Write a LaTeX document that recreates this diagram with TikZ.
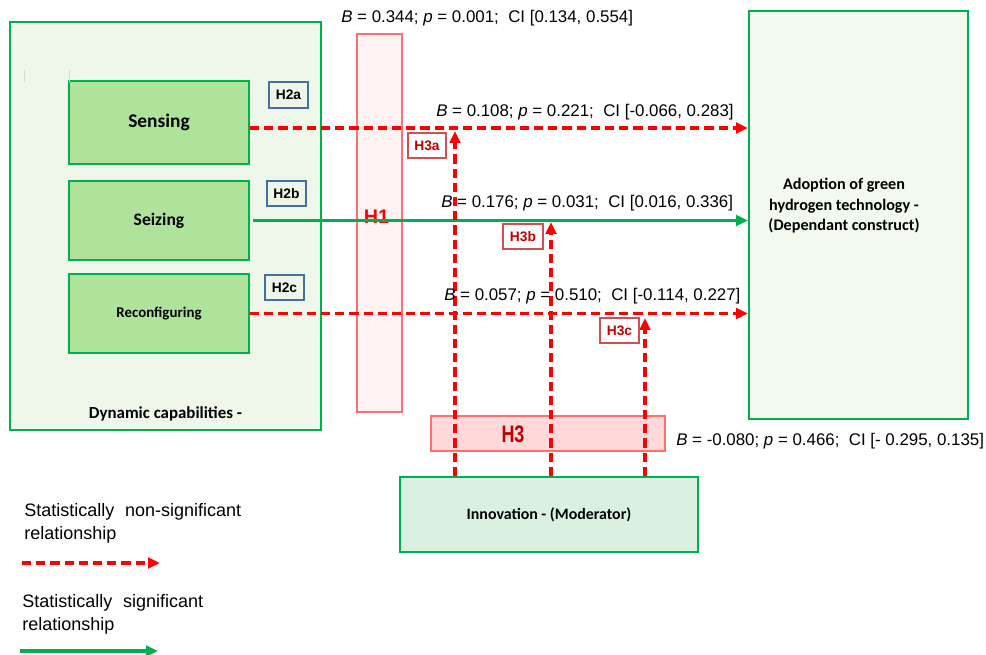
\documentclass[tikz,border=0pt]{standalone}
\usepackage{fontspec}
\setmainfont{Liberation Sans}
\newfontfamily\boxfont{Carlito}
\usepackage{tikz}
\usetikzlibrary{arrows.meta}
\usetikzlibrary{positioning}

\definecolor{fgreen}{HTML}{00B050}
\definecolor{dynfill}{HTML}{EEF7EA}
\definecolor{depfill}{HTML}{F2F9EE}
\definecolor{dimfill}{HTML}{AFE39B}
\definecolor{modfill}{HTML}{DAF1E2}
\definecolor{hypred}{HTML}{C00000}
\definecolor{hypline}{HTML}{FF6F6F}
\definecolor{honeshade}{HTML}{FFF2F2}
\definecolor{hthreeshade}{HTML}{FFD9D9}
\definecolor{tagblue}{HTML}{41719C}
\definecolor{tagred}{HTML}{D05050}
\definecolor{tickgray}{HTML}{D3DAD3}

\newcommand\pxlen{0.025cm}
\newcommand\linewd{1.4pt}
\newcommand\arrowwd{2.2pt}
\tikzset{>={Triangle[length=8.5pt,width=7.5pt]}}

\tikzstyle{construct} = [draw=fgreen, line width=\linewd, rectangle, inner sep=0pt]
\tikzstyle{boxtext}   = [inner sep=0pt, font=\boxfont\bfseries]
\tikzstyle{shade}     = [draw=hypline, line width=.8pt, rectangle, inner sep=0pt]
\tikzstyle{hyptag}    = 
 [line width=.8pt, rectangle, inner sep=0pt, minimum width=39*\pxlen, minimum height=25*\pxlen,
  font=\fontsize{9.8}{11}\selectfont\bfseries]
\tikzstyle{stat}      = [anchor=west, inner sep=0pt, font=\fontsize{12}{14}\selectfont]
\tikzstyle{legendtxt} = [anchor=west, inner sep=0pt, align=left, font=\fontsize{12.8}{16.4}\selectfont]
\tikzstyle{nonsig}    = [->, draw=red, line width=\arrowwd, dash pattern=on 6.5pt off 3.6pt]
\tikzstyle{sig}       = [->, draw=fgreen, line width=\arrowwd]

\begin{document}
\begin{tikzpicture}[x=\pxlen, y=-\pxlen]
    \useasboundingbox (0,0) rectangle (986,655);
    % constructs
    \draw (165.5,226) node[construct, fill=dynfill, minimum width=311*\pxlen, minimum height=408*\pxlen] (dyn) {};
    \draw (858.5,215) node[construct, fill=depfill, minimum width=219*\pxlen, minimum height=408*\pxlen] (dep) {};
    \draw (549,514.5) node[construct, fill=modfill, minimum width=298*\pxlen, minimum height=75*\pxlen] (innov)
      {\fontsize{11.3}{13}\boxfont\bfseries Innovation - (Moderator)};
    \draw (159,122.5) node[construct, fill=dimfill, minimum width=180*\pxlen, minimum height=83*\pxlen] (sensing)
      {\fontsize{13.8}{15}\boxfont\bfseries Sensing};
    \draw (159,220.5) node[construct, fill=dimfill, minimum width=180*\pxlen, minimum height=79*\pxlen] (seizing)
      {\fontsize{12.5}{14}\boxfont\bfseries Seizing};
    \draw (159,313.5) node[construct, fill=dimfill, minimum width=180*\pxlen, minimum height=79*\pxlen] (reconf)
      {\fontsize{10.6}{12}\boxfont\bfseries Reconfiguring};
    \draw (165.5,414) node[boxtext, font=\boxfont\bfseries\fontsize{12}{14}\selectfont] (dynlabel) {Dynamic capabilities -};
    \draw (844,206) node[boxtext, align=center, font=\boxfont\bfseries\fontsize{11.5}{14.6}\selectfont] (deptxt)
      {Adoption of green\\hydrogen technology -\\(Dependant construct)};
    \draw[tickgray, line width=.6pt] (24,70) -- (24,82);
    \draw[tickgray, line width=.6pt] (69,70) -- (69,82);

    % hypothesis shading
    \draw (379.5,223) node[shade, fill=honeshade, minimum width=45*\pxlen, minimum height=378*\pxlen] (hone) {};
    \draw (376.5,217) node[inner sep=0pt, text=red, font=\fontsize{14}{16}\selectfont\bfseries] (honetxt) {H1};
    \draw (548,433.5) node[shade, fill=hthreeshade, minimum width=234*\pxlen, minimum height=35*\pxlen] (hthree) {};
    \draw (513,434) node[inner sep=0pt, text=hypred]
      (hthreetxt) {\scalebox{.75}[1]{\fontsize{17}{18}\selectfont\bfseries H3}};

    % direct paths
    \draw[nonsig] ([yshift=-5.5*\pxlen]sensing.east) coordinate (sa) -- (sa -| dep.west);
    \draw[sig] ([xshift=3*\pxlen]seizing.east) -- (seizing.east -| dep.west);
    \draw[nonsig] (reconf.east) -- (reconf.east -| dep.west);

    % moderating paths
    \coordinate (moda) at (455,131);
    \coordinate (modb) at (551,222);
    \coordinate (modc) at (645,318);
    \draw[nonsig] (innov.north -| moda) -- (moda);
    \draw[nonsig] (innov.north -| modb) -- (modb);
    \draw[nonsig] (innov.north -| modc) -- (modc);

    % tags
    \draw (288.5,95) node[hyptag, draw=tagblue, fill=dynfill, minimum height=26*\pxlen] (htwoa) {H2a};
    \draw (286.5,193.5) node[hyptag, draw=tagblue, fill=dynfill] (htwob) {H2b};
    \draw (284.5,287.5) node[hyptag, draw=tagblue, fill=dynfill] (htwoc) {H2c};
    \draw (427,145.5) node[hyptag, draw=tagred, fill=white, text=hypred, minimum width=38*\pxlen] (hthreea) {H3a};
    \draw (523,236.5) node[hyptag, draw=tagred, fill=white, text=hypred, minimum width=40*\pxlen] (hthreeb) {H3b};
    \draw (619.5,330.5) node[hyptag, draw=tagred, fill=white, text=hypred] (hthreec) {H3c};

    % estimates
    \draw (341,18) node[stat] (estone) {\textit{B} = 0.344; \textit{p} = 0.001;\ \ CI [0.134, 0.554]};
    \draw (436,112) node[stat] (esta) {\textit{B} = 0.108; \textit{p} = 0.221;\ \ CI [-0.066, 0.283]};
    \draw (441,203) node[stat] (estb) {\textit{B} = 0.176; \textit{p} = 0.031;\ \ CI [0.016, 0.336]};
    \draw (444,296) node[stat] (estc) {\textit{B} = 0.057; \textit{p} = 0.510;\ \ CI [-0.114, 0.227]};
    \draw (676,441) node[stat] (estthree) {\textit{B} = -0.080; \textit{p} = 0.466;\ \ CI [- 0.295, 0.135]};

    % legend
    \draw (24,523.5) node[legendtxt] (nsigtxt) {Statistically\hspace{.6em}non-significant\\relationship};
    \coordinate (nsigfrom) at (22,563);
    \coordinate (nsigto) at (160,563);
    \draw[nonsig] (nsigfrom) -- (nsigto);
    \draw (22,614.5) node[legendtxt] (sigtxt) {Statistically\hspace{.6em}significant\\relationship};
    \coordinate (sigfrom) at (20,651);
    \coordinate (sigto) at (158,651);
    \draw[sig] (sigfrom) -- (sigto);
\end{tikzpicture}
\end{document}
